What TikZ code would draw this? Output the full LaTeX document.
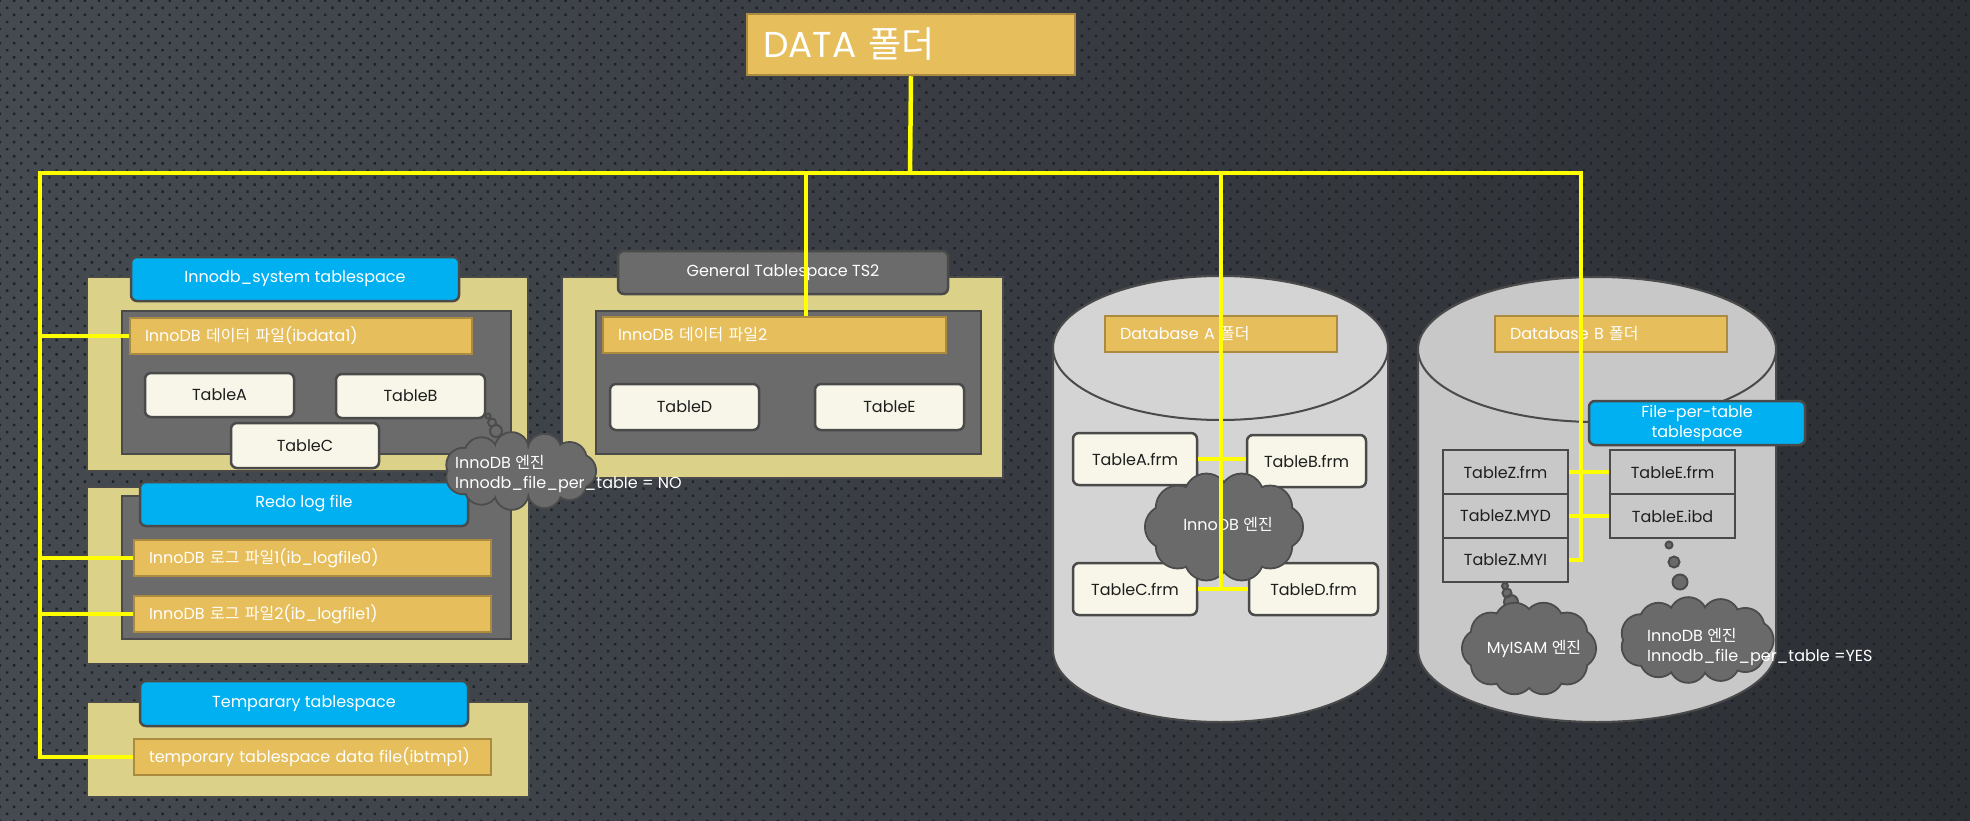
\documentclass[tikz,border=0pt]{standalone}
\usepackage{fontspec}
\setmainfont{Poppins}
\newfontfamily\kr{Noto Sans CJK KR}
\newcommand\ko[1]{{\kr #1}}
\usetikzlibrary{patterns.meta}
\definecolor{bgA}{HTML}{454A51}
\definecolor{bgB}{HTML}{2C2F34}
\definecolor{bgDot}{HTML}{1F2226}
\definecolor{khaki}{HTML}{DCD189}
\definecolor{edge}{HTML}{4A4A4A}
\definecolor{slate}{HTML}{6B6B6B}
\definecolor{sky}{HTML}{00B0F0}
\definecolor{gold}{HTML}{E6BE5B}
\definecolor{goldline}{HTML}{AA8B40}
\definecolor{cream}{HTML}{F8F6E8}
\definecolor{ink}{HTML}{1E1E1E}
\definecolor{cloudfill}{HTML}{6A6A6A}
\definecolor{cloudline}{HTML}{4C4C4C}
\definecolor{cylA}{HTML}{D4D4D4}
\definecolor{cylB}{HTML}{C8C8C8}
\definecolor{busline}{HTML}{FFFF00}
\tikzset{
  lbl/.style={font=\fontsize{16}{20}\selectfont, inner sep=0pt},
  panel/.style={draw=edge, fill=khaki, line width=1.5pt, inner sep=0pt},
  inpanel/.style={draw=edge, fill=slate, line width=2pt, inner sep=0pt},
  tag/.style={lbl, draw=edge, fill=sky, text=white, line width=2.5pt, rounded corners=6pt},
  gtag/.style={tag, fill=slate},
  filebox/.style={lbl, draw=goldline, fill=gold, text=white, line width=2.5pt, align=left, inner xsep=15pt},
  tbl/.style={lbl, draw=edge, fill=cream, text=ink, line width=2.5pt, rounded corners=6pt},
  cell/.style={lbl, draw=edge, text=ink, line width=2.5pt, minimum width=125pt, minimum height=44pt},
  puff/.style={draw=cloudline, fill=cloudfill, line width=2pt},
  cyl/.style={draw=edge, line width=2pt},
  bus/.style={draw=busline, line width=4.5pt}
}
% centre x, centre y, x radius, y radius, puff radius, puffs
\newcommand\puffcloud[6]{%
  \foreach \k in {1,...,#6}{%
    \pgfmathsetmacro\px{#1+(#3-#5)*cos(\k*360/#6)}%
    \pgfmathsetmacro\py{#2+(#4-#5)*sin(\k*360/#6)}%
    \filldraw[puff] (\px,\py) circle (#5);}
  \foreach \k in {1,...,#6}{%
    \pgfmathsetmacro\px{#1+(#3-#5)*cos(\k*360/#6)}%
    \pgfmathsetmacro\py{#2+(#4-#5)*sin(\k*360/#6)}%
    \fill[cloudfill] (\px,\py) circle ({#5-1});}
  \fill[cloudfill] (#1,#2) ellipse[x radius={#3-#5}, y radius={#4-#5}];}
\begin{document}
\begin{tikzpicture}[x=1pt,y=-1pt]
\useasboundingbox (0,0) rectangle (1970,821);
\fill[left color=bgA, right color=bgB] (0,0) rectangle (1970,821);
\fill[pattern={Dots[distance=10pt, radius=1.7pt, angle=45]}, pattern color=bgDot] (0,0) rectangle (1970,821);

\node[panel, minimum width=441pt, minimum height=194pt] (sysP) at (307.5,374) {};
\node[inpanel, minimum width=389pt, minimum height=143pt] (sysIn) at (316.5,382.5) {};
\node[tag, minimum width=328pt, minimum height=44pt] (sysTag) at (295,279) {Innodb\_system tablespace};
\node[filebox, text width=312pt, minimum height=36pt] (ibdata1) at (301,336) {InnoDB \ko{데이터 파일}(ibdata1)};
\node[tbl, minimum width=149pt, minimum height=44pt] (tblA) at (219.5,395) {TableA};
\node[tbl, minimum width=149pt, minimum height=44pt] (tblB) at (410.5,396) {TableB};
\node[tbl, minimum width=148pt, minimum height=45pt] (tblC) at (305,445.5) {TableC};

\node[panel, minimum width=442pt, minimum height=177pt] (redoP) at (308,575.5) {};
\node[inpanel, minimum width=389pt, minimum height=143pt] (redoIn) at (316.5,567.5) {};
\node[tag, minimum width=328pt, minimum height=44pt] (redoTag) at (304,504) {Redo log file};
\node[filebox, text width=327pt, minimum height=36pt] (log0) at (312.5,558) {InnoDB \ko{로그 파일}1(ib\_logfile0)};
\node[filebox, text width=327pt, minimum height=36pt] (log1) at (312.5,614) {InnoDB \ko{로그 파일}2(ib\_logfile1)};

\node[panel, minimum width=442pt, minimum height=95pt] (tmpP) at (308,749.5) {};
\node[tag, minimum width=328pt, minimum height=45pt] (tmpTag) at (304,703.5) {Temparary tablespace};
\node[filebox, text width=327pt, minimum height=36pt] (ibtmp) at (312.5,757) {temporary tablespace data file(ibtmp1)};

\node[panel, minimum width=441pt, minimum height=201pt] (genP) at (782.5,377.5) {};
\node[inpanel, minimum width=385pt, minimum height=143pt] (genIn) at (788.5,382.5) {};
\node[gtag, minimum width=330pt, minimum height=43pt] (genTag) at (783,272.5) {General Tablespace TS2};
\node[filebox, text width=313pt, minimum height=36pt] (ibdata2) at (774.5,335) {InnoDB \ko{데이터 파일}2};
\node[tbl, minimum width=149pt, minimum height=46pt] (tblD) at (684.5,407) {TableD};
\node[tbl, minimum width=149pt, minimum height=46pt] (tblE) at (889.5,407) {TableE};

\filldraw[puff] (488,416) circle (2.5) (492,422.5) circle (4) (496,431) circle (6);
\puffcloud{520}{471}{76}{39}{17}{11}
\node[lbl, text=white, align=left, anchor=west] (engNo) at (455,474) {InnoDB \ko{엔진}\\Innodb\_file\_per\_table = NO};

\filldraw[cyl, fill=cylA] (1053,348) -- (1053,650) arc[start angle=180, end angle=0, x radius=167.5, y radius=72]
  -- (1388,348) arc[start angle=0, end angle=-180, x radius=167.5, y radius=72] -- cycle;
\filldraw[cyl, fill=cylA] (1220.5,348) ellipse[x radius=167.5, y radius=72];
\node[filebox, text width=202pt, minimum height=36pt] (dbA) at (1221,334) {Database A \ko{폴더}};
\node[tbl, minimum width=124pt, minimum height=52pt] (frmA) at (1135,459) {TableA.frm};
\node[tbl, minimum width=119pt, minimum height=52pt] (frmB) at (1306.5,461) {TableB.frm};
\node[tbl, minimum width=124pt, minimum height=52pt] (frmC) at (1135,589) {TableC.frm};
\node[tbl, minimum width=129pt, minimum height=52pt] (frmD) at (1313.5,589) {TableD.frm};
\puffcloud{1224}{527}{79}{55}{22}{10}
\node[lbl, text=white] (engA) at (1228,524) {InnoDB \ko{엔진}};

\filldraw[cyl, fill=cylB] (1418,349.5) -- (1418,649.5) arc[start angle=180, end angle=0, x radius=179, y radius=72.5]
  -- (1776,349.5) arc[start angle=0, end angle=-180, x radius=179, y radius=72.5] -- cycle;
\filldraw[cyl, fill=cylB] (1597,349.5) ellipse[x radius=179, y radius=72.5];
\node[filebox, text width=202pt, minimum height=36pt] (dbB) at (1611,334) {Database B \ko{폴더}};
\node[tag, align=center, minimum width=216pt, minimum height=44pt] (fpt) at (1697,423) {File-per-table\\tablespace};
\node[cell] (zfrm) at (1505.5,472) {TableZ.frm};
\node[cell] (zmyd) at (1505.5,516) {TableZ.MYD};
\node[cell] (zmyi) at (1505.5,560) {TableZ.MYI};
\node[cell] (efrm) at (1672.5,472) {TableE.frm};
\node[cell] (eibd) at (1672.5,516) {TableE.ibd};
\filldraw[puff] (1669,545) circle (3.5) (1674,562) circle (5.5) (1680,582) circle (7.5);
\filldraw[puff] (1505,586) circle (3) (1507,593) circle (4.5) (1511,602) circle (7);
\puffcloud{1529}{648.5}{67}{47}{20}{10}
\node[lbl, text=white] (engM) at (1534,648.5) {MyISAM \ko{엔진}};
\puffcloud{1696.5}{640}{77}{43}{19}{11}
\node[lbl, text=white, align=left, anchor=west] (engYes) at (1647,647) {InnoDB \ko{엔진}\\Innodb\_file\_per\_table =YES};

\node[filebox, font=\fontsize{36}{40}\selectfont, inner xsep=16pt, text width=296pt, minimum height=61pt] (data) at (911,44.5) {DATA \ko{폴더}};

\coordinate (hub) at (910,173);
\coordinate (busL) at (40,173);
\coordinate (tapG) at (806,173);
\coordinate (tapA) at (1221,173);
\coordinate (tapB) at (1581,173);
\draw[bus] (data.south) -- (hub);
\draw[bus] (ibtmp.west) -- (ibtmp.west -| busL) -- (busL) -- (tapB) -- (tapB |- zmyi.east) -- (zmyi.east);
\draw[bus] (ibdata1.west -| busL) -- (ibdata1.west);
\draw[bus] (log0.west -| busL) -- (log0.west);
\draw[bus] (log1.west -| busL) -- (log1.west);
\draw[bus] (tapG) -- (tapG |- ibdata2.north);
\draw[bus] (tapA) -- (tapA |- frmC.east);
\draw[bus] (frmA.east) -- (frmA.east -| frmB.west);
\draw[bus] (frmC.east) -- (frmD.west);
\draw[bus] (zfrm.east) -- (efrm.west);
\draw[bus] (zmyd.east) -- (eibd.west);
\end{tikzpicture}
\end{document}
